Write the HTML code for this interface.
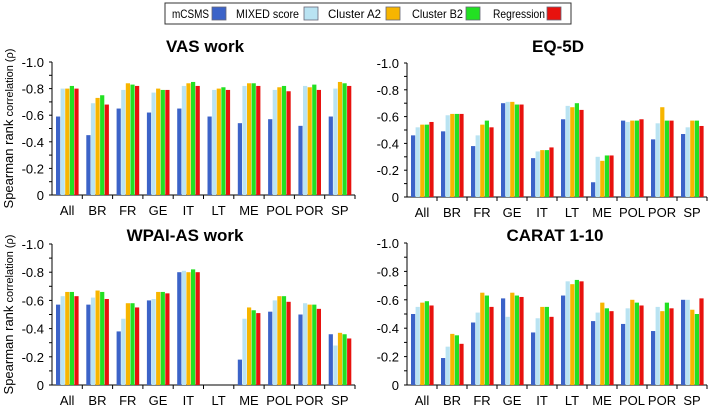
<!DOCTYPE html>
<html><head><meta charset="utf-8"><style>
body{margin:0;background:#fff;font-family:"Liberation Sans",sans-serif}
svg{display:block}
</style></head><body>
<svg id="c" width="709" height="407" xmlns="http://www.w3.org/2000/svg">
<g>
<rect x="165" y="3" width="406" height="21" fill="#fff" stroke="#333" stroke-width="1"/>
</g>
</svg>
<script>
const categories=["All","BR","FR","GE","IT","LT","ME","POL","POR","SP"];
const seriesNames=["mCSMS","MIXED score","Cluster A2","Cluster B2","Regression"];
const colors=["#3c63c8","#b9e3f2","#f7b500","#22e022","#e8120e"];
const vasWork=[[.59,.80,.80,.82,.80],[.45,.69,.73,.75,.68],[.65,.79,.84,.83,.82],[.62,.77,.80,.79,.79],[.65,.82,.84,.85,.82],[.59,.79,.80,.81,.79],[.54,.82,.84,.84,.82],[.57,.79,.81,.82,.78],[.52,.82,.81,.83,.79],[.59,.80,.85,.84,.82]];
const eq5d=[[.46,.52,.54,.54,.56],[.49,.61,.62,.62,.62],[.38,.46,.54,.57,.52],[.70,.71,.71,.69,.69],[.29,.34,.35,.35,.37],[.58,.68,.67,.70,.65],[.11,.30,.27,.31,.31],[.57,.56,.57,.57,.58],[.43,.55,.67,.57,.57],[.47,.52,.57,.57,.53]];
const wpaiWork=[[.57,.63,.66,.66,.63],[.57,.62,.67,.66,.61],[.38,.47,.58,.58,.55],[.60,.61,.66,.66,.65],[.80,.81,.80,.82,.80],[null,null,null,null,null],[.18,.47,.55,.53,.51],[.52,.60,.63,.63,.59],[.50,.58,.57,.57,.54],[.36,.28,.37,.36,.33]];
const carat=[[.50,.55,.58,.59,.56],[.19,.27,.36,.35,.29],[.44,.51,.65,.63,.55],[.61,.48,.65,.63,.62],[.37,.47,.55,.55,.48],[.63,.73,.71,.74,.73],[.45,.51,.58,.54,.52],[.43,.54,.60,.58,.56],[.38,.55,.52,.58,.54],[.60,.60,.53,.50,.61]];
const tickLabels=["0","-0.2","-0.4","-0.6","-0.8","-1.0"];
const tickValues=[0,.2,.4,.6,.8,1.0];
const svg=document.getElementById('c');
const NS="http://www.w3.org/2000/svg";
function mk(t,a,p){const e=document.createElementNS(NS,t);for(const k in a)e.setAttribute(k,a[k]);(p||svg).appendChild(e);return e;}
const lx=[172,236,328,412,493];
const lw=[37,63,53,51,52];
const sx=[212,304,386,466,547];
seriesNames.forEach((n,i)=>{
 const t=mk('text',{x:lx[i],y:18,'font-size':12,fill:'#000',textLength:lw[i],lengthAdjust:'spacingAndGlyphs'});t.textContent=n;
 
 
 const r=mk('rect',{x:sx[i],y:7,width:14,height:13,fill:colors[i],stroke:'#667','stroke-width':0.8});
 
 
});
const panels=[
 {title:"VAS work",data:vasWork,x0:52,x1:355,y0:195,top:62,tx:205,ty:52,yl:true},
 {title:"EQ-5D",data:eq5d,x0:407,x1:707,y0:197,top:63,tx:558,ty:52,yl:false},
 {title:"WPAI-AS work",data:wpaiWork,x0:52,x1:355,y0:385,top:244,tx:185,ty:241,yl:true},
 {title:"CARAT 1-10",data:carat,x0:407,x1:707,y0:385,top:243,tx:555,ty:241,yl:false}];
panels.forEach((p,pi)=>{
 const g=mk('g',{});
 
 
 const ys=v=>p.y0-(p.y0-p.top)*v;
 const cw=(p.x1-p.x0)/categories.length;
 const tt=mk('text',{x:p.tx,y:p.ty,'font-size':17,'font-weight':'bold','text-anchor':'middle'},g);tt.textContent=p.title;
 
 
 mk('line',{x1:p.x0,y1:p.top,x2:p.x0,y2:p.y0,stroke:'#000','stroke-width':1},g);
 mk('line',{x1:p.x0,y1:p.y0,x2:p.x1,y2:p.y0,stroke:'#000','stroke-width':1},g);
 for(let k=0;k<=10;k++){const v=k*0.1,y=ys(v);mk('line',{x1:p.x0-3,y1:y,x2:p.x0,y2:y,stroke:'#000'},g);}
 tickValues.forEach((v,i)=>{const t=mk('text',{x:p.x0-8,y:ys(v)+5,'font-size':13,'text-anchor':'end'},g);t.textContent=tickLabels[i];
  
  });
 categories.forEach((c,ci)=>{
  const cx=p.x0+cw*ci;
  mk('line',{x1:cx+cw,y1:p.y0,x2:cx+cw,y2:p.y0+4,stroke:'#000'},g);
  const t=mk('text',{x:cx+cw/2,y:p.y0+20,'font-size':13,'text-anchor':'middle'},g);t.textContent=c;
  
  
  p.data[ci].forEach((v,si)=>{
   if(v==null)return;
   const r=mk('rect',{x:cx+4+si*4.6,y:ys(v),width:4.2,height:p.y0-ys(v),fill:colors[si]},g);
   
   
  });
 });
 if(p.yl){const t=mk('text',{x:0,y:0,'font-size':11,'text-anchor':'middle',transform:`translate(13,${(p.y0+p.top)/2}) rotate(-90)`},g);
  t.innerHTML='<tspan font-size="13">Spearman rank</tspan> correlation (ρ)';
  
  }
});
</script>
</body></html>
